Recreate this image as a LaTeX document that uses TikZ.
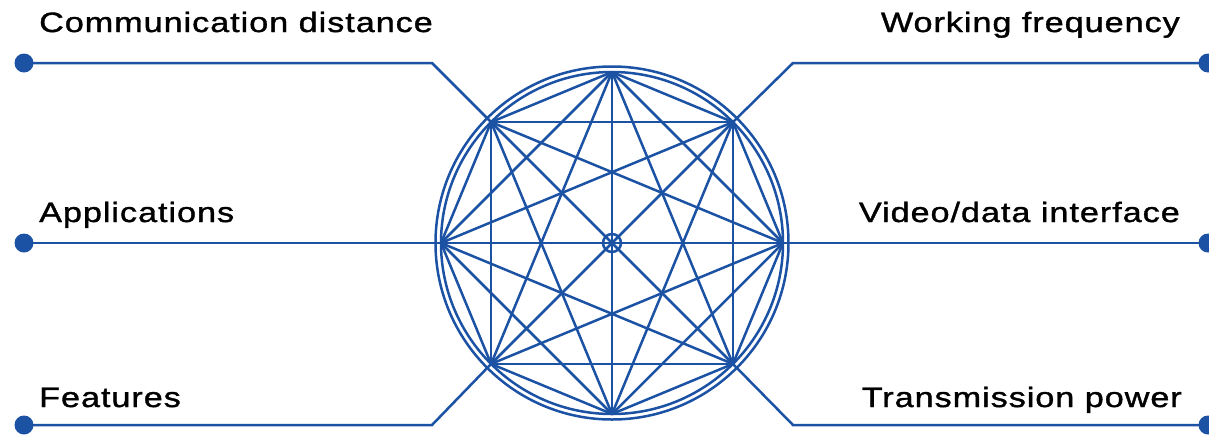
\documentclass[tikz,border=0pt]{standalone}
\usepackage{fontspec}
\setmainfont{Liberation Sans}[FakeStretch=1.22,LetterSpace=3.5,FakeBold=1.3]
\definecolor{myblue}{RGB}{28,82,164}
\begin{document}
\begin{tikzpicture}[x=1pt,y=-1pt,
  wire/.style={draw=myblue,line width=2.5pt,line join=miter},
  dotnode/.style={circle,fill=myblue,inner sep=0pt,minimum size=19pt},
  lbl/.style={inner sep=0pt,font=\fontsize{28}{32}\selectfont,text=black}]
\useasboundingbox (0,0) rectangle (1209,437);
\coordinate (c) at (612,243);
\foreach \i in {0,...,7} \coordinate (v\i) at ([shift={(\i*45:171)}]c);
% circles
\draw[wire] (c) circle[radius=171];
\draw[wire] (c) circle[radius=176.5];
% complete graph
\foreach \i in {0,...,6}{
  \pgfmathtruncatemacro\s{\i+1}
  \foreach \j in {\s,...,7} \draw[wire] (v\i) -- (v\j);
}
\node[circle,draw=myblue,line width=2.5pt,inner sep=0pt,minimum size=18pt,fill=none] (hub) at (c) {};
% dots
\node[dotnode] (dl1) at (24,63) {};
\node[dotnode] (dl2) at (24,243) {};
\node[dotnode] (dl3) at (24,425) {};
\node[dotnode] (dr1) at (1208,63) {};
\node[dotnode] (dr2) at (1208,243) {};
\node[dotnode] (dr3) at (1208,425) {};
\coordinate (bl1) at (432,63);
\coordinate (bl3) at (432,425);
\coordinate (br1) at (793,63);
\coordinate (br3) at (793,425);
\draw[wire] (dl1.center) -- (bl1) -- (v5);
\draw[wire] (dl2.center) -- (v4);
\draw[wire] (dl3.center) -- (bl3) -- (v3);
\draw[wire] (dr1.center) -- (br1) -- (v7);
\draw[wire] (dr2.center) -- (v0);
\draw[wire] (dr3.center) -- (br3) -- (v1);
% labels
\node[lbl,anchor=base west] (t1) at (39,32) {Communication distance};
\node[lbl,anchor=base west] (t2) at (39,222) {Applications};
\node[lbl,anchor=base west] (t3) at (39,407) {Features};
\node[lbl,anchor=base east] (t4) at (1180,32) {Working frequency};
\node[lbl,anchor=base east] (t5) at (1180,222) {Video/data interface};
\node[lbl,anchor=base east] (t6) at (1182,407) {Transmission power};
\end{tikzpicture}
\end{document}
